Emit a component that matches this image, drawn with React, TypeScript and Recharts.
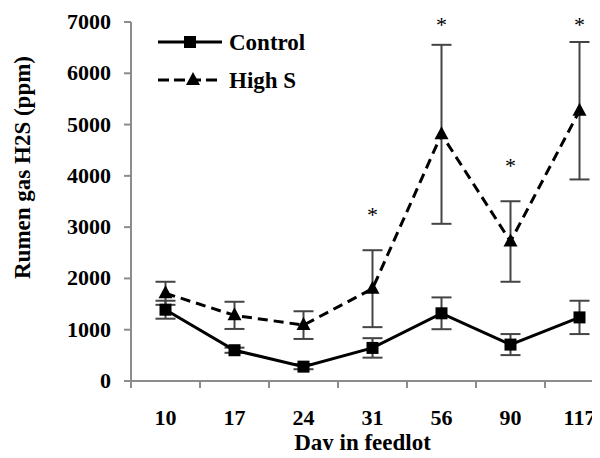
import React from 'react';
import { LineChart, Line, XAxis, YAxis, ErrorBar, ReferenceLine } from 'recharts';

const days = ['10', '17', '24', '31', '56', '90', '117'];
const controlMean = [1390, 600, 280, 645, 1320, 710, 1240];
const controlErr = [175, 50, 50, 190, 310, 205, 325];
const highSMean = [1710, 1280, 1090, 1800, 4810, 2720, 5270];
const highSErr = [225, 265, 270, 750, 1745, 785, 1340];
// height at which the significance asterisk sits (null = none)
const starLevel = [null, null, null, 3300, 7000, 4250, 7000];
const yTicks = [0, 1000, 2000, 3000, 4000, 5000, 6000, 7000];
// band edges (tick marks) and band centres (day labels)
const xTicks = Array.from({ length: days.length * 2 + 1 }, (_, i) => i / 2);

const FONT = '"Liberation Serif", "Times New Roman", serif';
const AXIS_GREY = '#8c8c8c';

const data = days.map((d, i) => ({
  pos: i + 0.5,
  day: d,
  control: controlMean[i],
  controlErr: controlErr[i],
  highS: highSMean[i],
  highSErr: highSErr[i],
  star: starLevel[i],
}));

const DayTick = (p: any) => {
  const v = p.payload?.value;
  if (Number.isInteger(v)) {
    return <line x1={p.x} y1={p.y} x2={p.x} y2={p.y + 7} stroke={AXIS_GREY} strokeWidth={2} />;
  }
  return (
    <text x={p.x} y={p.y + 44} textAnchor="middle" fontSize={22} fontWeight="bold" fontFamily={FONT} fill="#000">
      {days[Math.floor(v)]}
    </text>
  );
};

const PpmTick = (p: any) => (
  <g>
    <rect x={p.x - 7} y={p.y - 1} width={7} height={2} fill={AXIS_GREY} />
    <text x={p.x - 20} y={p.y + 7} textAnchor="end" fontSize={22} fontWeight="bold" fontFamily={FONT} fill="#000">
      {p.payload?.value}
    </text>
  </g>
);

const SquareDot = (p: any) => {
  if (p.cx == null || p.cy == null) return <g key={p.key} />;
  return <rect key={p.key} x={p.cx - 6} y={p.cy - 6} width={12} height={12} fill="#000" />;
};

const TriangleDot = (p: any) => {
  if (p.cx == null || p.cy == null) return <g key={p.key} />;
  const { cx, cy } = p;
  return <polygon key={p.key} points={`${cx},${cy - 8} ${cx + 7},${cy + 5} ${cx - 7},${cy + 5}`} fill="#000" />;
};

const StarDot = (p: any) => {
  if (p.cx == null || p.cy == null || p.payload?.star == null) return <g key={p.key} />;
  return (
    <text key={p.key} x={p.cx} y={p.cy + 10} textAnchor="middle" fontSize={22} fontFamily={FONT} fill="#000">*</text>
  );
};

const YLabel = (props: any) => {
  const vb = props.viewBox || {};
  const cx = 22;
  const cy = vb.y + vb.height / 2 - 34;
  return (
    <text
      x={cx} y={cy} transform={`rotate(-90, ${cx}, ${cy})`}
      textAnchor="middle" dominantBaseline="central"
      fontSize={23} fontWeight="bold" fontFamily={FONT} fill="#000"
    >
      Rumen gas H2S (ppm)
    </text>
  );
};

const LegendBox = () => (
  <svg width={200} height={100} style={{ position: 'absolute', left: 150, top: 20 }}>
    <line x1={8} y1={22} x2={72} y2={22} stroke="#000" strokeWidth={3} />
    <rect x={34} y={16} width={12} height={12} fill="#000" />
    <text x={79} y={30} fontSize={23} fontWeight="bold" fontFamily={FONT}>Control</text>
    <line x1={8} y1={60} x2={72} y2={60} stroke="#000" strokeWidth={3} strokeDasharray="11 5" />
    <polygon points="43,52 50,65 36,65" fill="#000" />
    <text x={79} y={68} fontSize={23} fontWeight="bold" fontFamily={FONT}>High S</text>
  </svg>
);

export default function App() {
  return (
    <div style={{ position: 'relative', width: 600, height: 458, overflow: 'hidden', margin: -8, background: '#fff' }}>
      <LineChart width={640} height={458} data={data} margin={{ top: 22, right: 26, bottom: 0, left: 0 }}>
        <XAxis
          dataKey="pos" type="number" domain={[0, 7]} ticks={xTicks}
          tick={<DayTick />} tickLine={false} tickSize={0} tickMargin={0}
          interval={0} height={77} stroke={AXIS_GREY} strokeWidth={2}
          label={{ value: 'Day in feedlot', position: 'insideBottom', offset: 8, fontSize: 23, fontWeight: 'bold', fontFamily: FONT, fill: '#000', dx: -10 }}
        />
        <YAxis
          type="number" domain={[0, 7000]} ticks={yTicks} width={131}
          tickSize={0} tickMargin={0} tickLine={false} tick={<PpmTick />} interval={0}
          stroke={AXIS_GREY} strokeWidth={2}
          label={<YLabel />}
        />
        <ReferenceLine y={0} stroke={AXIS_GREY} strokeWidth={2} ifOverflow="visible" />
        <ReferenceLine x={0} stroke={AXIS_GREY} strokeWidth={2} ifOverflow="visible" />
        <Line
          dataKey="control" stroke="#000" strokeWidth={3}
          dot={SquareDot} activeDot={false} isAnimationActive={false}
        >
          <ErrorBar dataKey="controlErr" width={10} stroke="#444" strokeWidth={2} direction="y" />
        </Line>
        <Line
          dataKey="highS" stroke="#000" strokeWidth={3} strokeDasharray="10 6"
          dot={TriangleDot} activeDot={false} isAnimationActive={false}
        >
          <ErrorBar dataKey="highSErr" width={10} stroke="#444" strokeWidth={2} direction="y" />
        </Line>
        <Line
          dataKey="star" stroke="none" connectNulls={false}
          dot={StarDot} activeDot={false} isAnimationActive={false}
        />
      </LineChart>
      <LegendBox />
    </div>
  );
}
